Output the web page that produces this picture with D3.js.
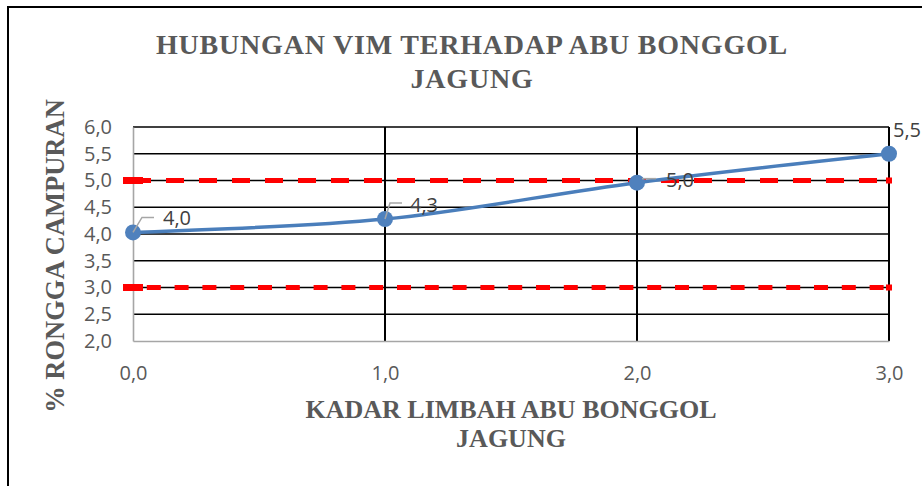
<!DOCTYPE html>
<html>
<head>
<meta charset="utf-8">
<script src="https://cdn.jsdelivr.net/npm/d3@7"></script>
<style>
  body { margin: 0; background: #fff; }
  svg { display: block; }
</style>
</head>
<body>
<div id="chart"></div>
<script>
// data
let kadar = [0, 1, 2, 3];
let vim = [4.03, 4.28, 4.96, 5.5];
let batasAtas = 5.0;
let batasBawah = 3.0;
let yTicks = [2.0, 2.5, 3.0, 3.5, 4.0, 4.5, 5.0, 5.5, 6.0];
let xTicks = [0, 1, 2, 3];
let titleLines = ["HUBUNGAN VIM TERHADAP ABU BONGGOL", "JAGUNG"];
let xTitleLines = ["KADAR LIMBAH ABU BONGGOL", "JAGUNG"];
let yTitle = "% RONGGA CAMPURAN";

let svgWidth = 922;
let svgHeight = 486;

let margin = { top: 127, right: 33, bottom: 145, left: 133 };
let width = svgWidth - margin.left - margin.right;
let height = svgHeight - margin.top - margin.bottom;

let fmt = v => d3.format(".1f")(v).replace(".", ",");

let svg = d3.select("#chart")
    .append("svg")
    .attr("width", svgWidth)
    .attr("height", svgHeight);

// outer chart border
svg.append("rect")
    .attr("x", 8).attr("y", 7)
    .attr("width", svgWidth + 20).attr("height", svgHeight + 20)
    .attr("fill", "#fff")
    .attr("stroke", "#000")
    .attr("stroke-width", 2);

let chartGroup = svg.append("g")
    .attr("transform", `translate(${margin.left}, ${margin.top})`);

let x = d3.scaleLinear().domain([0, 3]).range([0, width]);
let y = d3.scaleLinear().domain([2, 6]).range([height, 0]);

// horizontal gridlines
chartGroup.append("g")
    .selectAll("line")
    .data(yTicks.filter(d => d > 2))
    .enter()
    .append("line")
    .attr("x1", 0).attr("x2", width)
    .attr("y1", d => y(d)).attr("y2", d => y(d))
    .attr("stroke", "#000")
    .attr("stroke-width", 1.6);

// vertical gridlines
chartGroup.append("g")
    .selectAll("line")
    .data(xTicks.filter(d => d > 0))
    .enter()
    .append("line")
    .attr("x1", d => x(d)).attr("x2", d => x(d))
    .attr("y1", 0).attr("y2", height)
    .attr("stroke", "#000")
    .attr("stroke-width", 2);

// axes (gray lines, no ticks)
let leftAxis = d3.axisLeft(y).tickValues(yTicks).tickSize(0).tickPadding(21).tickFormat(fmt);
let bottomAxis = d3.axisBottom(x).tickValues(xTicks).tickSize(0).tickPadding(25).tickFormat(fmt);

let gy = chartGroup.append("g").call(leftAxis);
let gx = chartGroup.append("g").attr("transform", `translate(0, ${height})`).call(bottomAxis);

[gx, gy].forEach(g => {
    g.select(".domain").attr("stroke", "#a6a6a6").attr("stroke-width", 1.6);
    g.selectAll("text")
        .attr("fill", "#595959")
        .style("font-family", "'Open Sans', sans-serif")
        .style("font-size", "20px");
});

// red limit lines (dashed)
function limitLine(val, dash, offset) {
    chartGroup.append("line")
        .attr("x1", x(0)).attr("x2", x(3))
        .attr("y1", y(val)).attr("y2", y(val))
        .attr("stroke", "#ff0000")
        .attr("stroke-width", 5)
        .attr("stroke-dasharray", dash)
        .attr("stroke-dashoffset", offset);
    chartGroup.append("rect")
        .attr("x", x(0) - 10).attr("y", y(val) - 3.5)
        .attr("width", 20).attr("height", 7)
        .attr("fill", "#ff0000");
    chartGroup.append("rect")
        .attr("x", x(3) - 3).attr("y", y(val) - 3)
        .attr("width", 6).attr("height", 6)
        .attr("fill", "#ff0000");
}
limitLine(batasAtas, "18,15", 0);
limitLine(batasBawah, "14,13.8", 14);

// smoothed VIM line
let points = kadar.map((k, i) => [x(k), y(vim[i])]);

chartGroup.append("path")
    .datum(points)
    .attr("fill", "none")
    .attr("stroke", "#4a7ebb")
    .attr("stroke-width", 3.5)
    .attr("d", d3.line().curve(d3.curveCatmullRom.alpha(0.5)));

chartGroup.selectAll(".marker")
    .data(points)
    .enter()
    .append("circle")
    .attr("class", "marker")
    .attr("cx", d => d[0])
    .attr("cy", d => d[1])
    .attr("r", 8)
    .attr("fill", "#4f81bd");

// data labels with leader lines
let labelOffsets = [
    { lead: [[0, 0], [9, -15], [21, -15]], dx: 30, dy: -14 },
    { lead: [[0, 0], [5, -16], [17, -16]], dx: 25, dy: -14 },
    { lead: [[5, -4], [19, -4]], dx: 29, dy: -3 },
    { lead: null, dx: 4, dy: -24 }
];

kadar.forEach((k, i) => {
    let px = x(k), py = y(vim[i]);
    let o = labelOffsets[i];
    if (o.lead) {
        chartGroup.append("polyline")
            .attr("points", o.lead.map(p => [px + p[0], py + p[1]].join(",")).join(" "))
            .attr("fill", "none")
            .attr("stroke", "#a6a6a6")
            .attr("stroke-width", 1.5);
    }
    chartGroup.append("text")
        .attr("x", px + o.dx)
        .attr("y", py + o.dy)
        .attr("dy", "0.35em")
        .attr("fill", "#404040")
        .style("font-family", "'Open Sans', sans-serif")
        .style("font-size", "20px")
        .text(fmt(vim[i]));
});

// titles
let serif = "'Liberation Serif', 'Times New Roman', serif";

svg.append("g").selectAll("text")
    .data(titleLines)
    .enter()
    .append("text")
    .attr("x", 472)
    .attr("y", (d, i) => 54 + i * 34)
    .attr("text-anchor", "middle")
    .attr("fill", "#595959")
    .style("font-family", serif)
    .style("font-weight", "bold")
    .style("font-size", "28px")
    .style("letter-spacing", "0.8px")
    .text(d => d);

svg.append("g").selectAll("text")
    .data(xTitleLines)
    .enter()
    .append("text")
    .attr("x", 511)
    .attr("y", (d, i) => 418 + i * 29)
    .attr("text-anchor", "middle")
    .attr("fill", "#595959")
    .style("font-family", serif)
    .style("font-weight", "bold")
    .style("font-size", "26px")
    .text(d => d);

svg.append("text")
    .attr("transform", "translate(64, 256) rotate(-90)")
    .attr("text-anchor", "middle")
    .attr("fill", "#595959")
    .style("font-family", serif)
    .style("font-weight", "bold")
    .style("font-size", "26.5px")
    .text(yTitle);
</script>
</body>
</html>
